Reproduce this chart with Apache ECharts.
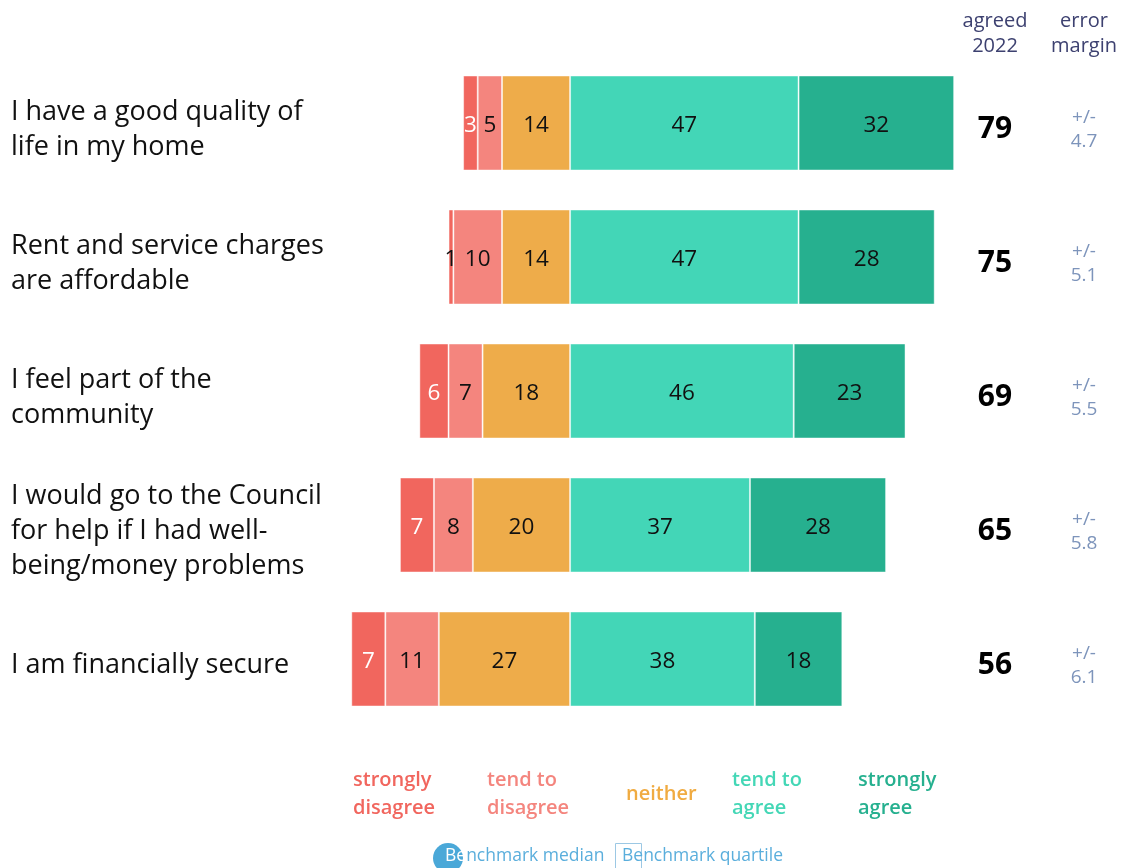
<!DOCTYPE html>
<html>
<head>
<meta charset="utf-8">
<style>
  html, body { margin: 0; padding: 0; background: #ffffff; }
  #chart { width: 1122px; height: 868px; }
</style>
<script src="https://cdn.jsdelivr.net/npm/echarts@6/dist/echarts.min.js"></script>
</head>
<body>
<div id="chart"></div>
<script>
// Survey statements (top to bottom)
const statements = [
  'I have a good quality of\nlife in my home',
  'Rent and service charges\nare affordable',
  'I feel part of the\ncommunity',
  'I would go to the Council\nfor help if I had well-\nbeing/money problems',
  'I am financially secure'
];

// Response shares (%)
const stronglyDisagree = [3, 1, 6, 7, 7];
const tendToDisagree   = [5, 10, 7, 8, 11];
const neither          = [14, 14, 18, 20, 27];
const tendToAgree      = [47, 47, 46, 37, 38];
const stronglyAgree    = [32, 28, 23, 28, 18];

// Summary columns
const agreed2022  = [79, 75, 69, 65, 56];
const errorMargin = ['4.7', '5.1', '5.5', '5.8', '6.1'];

const COLORS = {
  sd: '#f1665e',
  td: '#f4857e',
  ne: '#eeac4a',
  ta: '#43d6b7',
  sa: '#26b08f'
};
const FONT = '"Open Sans", "Noto Sans", sans-serif';

const chart = echarts.init(document.getElementById('chart'));

function barSeries(name, values, color, negative, labelColor) {
  return {
    name: name,
    type: 'bar',
    stack: 'likert',
    barWidth: 95,
    xAxisIndex: 0,
    yAxisIndex: 0,
    itemStyle: { color: color, borderColor: 'rgba(255,255,255,0.45)', borderWidth: 1 },
    label: {
      show: true,
      position: 'inside',
      offset: [0, 3],
      fontFamily: FONT,
      fontSize: 22.5,
      formatter: p => String(Math.abs(p.value))
    },
    data: values.map(v => ({
      value: negative ? -v : v,
      label: { color: (labelColor === '#ffffff' && v < 2) ? '#111111' : labelColor }
    }))
  };
}

const hiddenCategory = {
  type: 'category',
  inverse: true,
  axisLine: { show: false },
  axisTick: { show: false }
};

const option = {
  backgroundColor: '#ffffff',
  animation: false,
  grid: [
    // bars
    { left: 327, right: 163, top: 56, height: 670, containLabel: false },
    // row labels and summary columns
    { left: 327, right: 163, top: 62.5, height: 670, containLabel: false }
  ],
  xAxis: [
    { type: 'value', gridIndex: 0, min: -50, max: 80, show: false },
    { type: 'value', gridIndex: 1, min: -50, max: 80, show: false }
  ],
  yAxis: [
    Object.assign({}, hiddenCategory, { gridIndex: 0, data: statements, axisLabel: { show: false } }),
    Object.assign({}, hiddenCategory, {
      gridIndex: 1,
      data: statements,
      axisLabel: {
        align: 'left',
        margin: 316,
        fontFamily: FONT,
        fontSize: 27,
        lineHeight: 35,
        color: '#111111'
      }
    }),
    Object.assign({}, hiddenCategory, {
      gridIndex: 1,
      data: statements,
      position: 'right',
      axisLabel: {
        align: 'center',
        margin: 36,
        fontFamily: FONT,
        fontSize: 30,
        fontWeight: 'bold',
        color: '#000000',
        formatter: (v, i) => String(agreed2022[i])
      }
    }),
    Object.assign({}, hiddenCategory, {
      gridIndex: 1,
      data: statements,
      position: 'right',
      offset: 0,
      axisLabel: {
        align: 'center',
        margin: 125,
        fontFamily: FONT,
        fontSize: 19,
        lineHeight: 24,
        color: '#7d94bb',
        formatter: (v, i) => '+/-\n' + errorMargin[i]
      }
    })
  ],
  series: [
    barSeries('neither', neither, COLORS.ne, true, '#111111'),
    barSeries('tend to disagree', tendToDisagree, COLORS.td, true, '#111111'),
    barSeries('strongly disagree', stronglyDisagree, COLORS.sd, true, '#ffffff'),
    barSeries('tend to agree', tendToAgree, COLORS.ta, false, '#111111'),
    barSeries('strongly agree', stronglyAgree, COLORS.sa, false, '#111111')
  ],
  graphic: [
    // column headers
    { type: 'text', x: 995, y: 9, style: { text: 'agreed\n2022', align: 'center', fontFamily: FONT, fontSize: 20, lineHeight: 25, fill: '#3d4170' } },
    { type: 'text', x: 1084, y: 9, style: { text: 'error\nmargin', align: 'center', fontFamily: FONT, fontSize: 20, lineHeight: 25, fill: '#3d4170' } },
    // response legend
    { type: 'text', left: 353, top: 766, style: { text: 'strongly\ndisagree', fontFamily: FONT, fontSize: 20, fontWeight: 600, lineHeight: 28, fill: COLORS.sd } },
    { type: 'text', left: 487, top: 766, style: { text: 'tend to\ndisagree', fontFamily: FONT, fontSize: 20, fontWeight: 600, lineHeight: 28, fill: COLORS.td } },
    { type: 'text', left: 626, top: 780, style: { text: 'neither', fontFamily: FONT, fontSize: 20, fontWeight: 600, lineHeight: 28, fill: '#f0ab41' } },
    { type: 'text', left: 732, top: 766, style: { text: 'tend to\nagree', fontFamily: FONT, fontSize: 20, fontWeight: 600, lineHeight: 28, fill: '#44d7b6' } },
    { type: 'text', left: 858, top: 766, style: { text: 'strongly\nagree', fontFamily: FONT, fontSize: 20, fontWeight: 600, lineHeight: 28, fill: COLORS.sa } },
    // benchmark keys
    { type: 'circle', shape: { cx: 448, cy: 858, r: 15 }, style: { fill: '#4aa8d8' } },
    { type: 'rect', shape: { x: 615.5, y: 843.5, width: 26, height: 30 }, style: { fill: 'none', stroke: '#9cc8e4', lineWidth: 1 } },
    {
      type: 'text', x: 445, y: 847,
      style: {
        text: '{w|Be}{b|nchmark median}',
        fontFamily: FONT, fontSize: 17.5,
        rich: {
          w: { fontFamily: FONT, fontSize: 17.5, fill: '#ffffff' },
          b: { fontFamily: FONT, fontSize: 17.5, fill: '#5aaedc' }
        }
      }
    },
    { type: 'text', x: 622, y: 847, style: { text: 'Benchmark quartile', fontFamily: FONT, fontSize: 17.5, fill: '#5aaedc' } }
  ]
};

chart.setOption(option);
</script>
</body>
</html>
